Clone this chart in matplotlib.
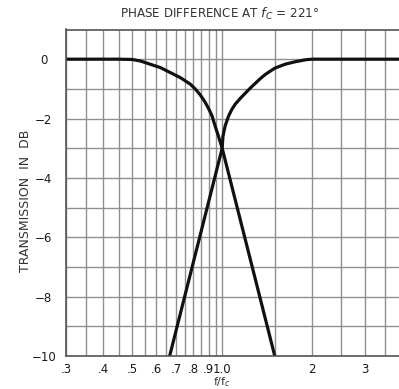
import matplotlib
matplotlib.use("Agg")
import matplotlib.pyplot as plt
from matplotlib.ticker import FixedLocator, NullFormatter

# Data
left_f = [0.3, 0.45, 0.5, 0.532, 0.574, 0.62, 0.67, 0.724, 0.782, 0.812, 0.844, 0.877,
          0.9, 0.924, 0.947, 0.972, 0.993, 1.0, 1.5]
left_db = [0.0, 0.0, -0.01, -0.06, -0.17, -0.28, -0.45, -0.62, -0.84, -1.0, -1.2, -1.45,
           -1.66, -1.9, -2.25, -2.6, -2.9, -3.0, -10.0]

right_f = [0.667, 1.0, 1.006, 1.023, 1.05, 1.075, 1.105, 1.15, 1.194, 1.24, 1.289, 1.34,
           1.392, 1.45, 1.503, 1.624, 1.75, 1.9, 2.0, 4.0]
right_db = [-10.0, -3.0, -2.6, -2.25, -1.92, -1.71, -1.52, -1.32, -1.15, -0.98, -0.82, -0.66,
            -0.52, -0.4, -0.3, -0.17, -0.09, -0.02, 0.0, 0.0]

xtick_vals = [0.3, 0.4, 0.5, 0.6, 0.7, 0.8, 0.9, 1.0, 2, 3, 4]
xtick_labels = [".3", ".4", ".5", ".6", ".7", ".8", ".9", "1.0", "2", "3", "4"]
xminor_vals = [0.35, 0.45, 0.55, 0.65, 0.75, 0.85, 0.95, 1.5, 2.5, 3.5]
ytick_vals = [0, -2, -4, -6, -8, -10]
ytick_labels = ["0", "\u22122", "\u22124", "\u22126", "\u22128", "\u221210"]
yminor_vals = [1, -1, -3, -5, -7, -9]

title = "PHASE DIFFERENCE AT $f_C$ = 221\u00b0"
xlabel = "f/f$_c$"
ylabel = "TRANSMISSION  IN  DB"

fig = plt.figure(figsize=(3.99, 3.89), dpi=100)
W, H = 399, 389
x0, x1, y0, y1 = 66, 402, 29.5, 356
ax = fig.add_axes([x0 / W, 1 - y1 / H, (x1 - x0) / W, (y1 - y0) / H])

ax.set_xscale("log")
ax.set_xlim(0.3, 4)
ax.set_ylim(-10, 1)

gridc = "#8f8f8f"
ax.xaxis.set_major_locator(FixedLocator(xtick_vals))
ax.set_xticklabels(xtick_labels)
ax.xaxis.set_minor_locator(FixedLocator(xminor_vals))
ax.xaxis.set_minor_formatter(NullFormatter())
ax.yaxis.set_major_locator(FixedLocator(ytick_vals))
ax.set_yticklabels(ytick_labels)
ax.yaxis.set_minor_locator(FixedLocator(yminor_vals))
ax.yaxis.set_minor_formatter(NullFormatter())
ax.grid(True, which="both", color=gridc, lw=1.0)
ax.set_axisbelow(True)
ax.tick_params(axis="x", which="both", length=0, labelsize=8.5, colors="#1a1a1a", pad=5)
ax.tick_params(axis="y", which="both", length=0, labelsize=8.5, colors="#1a1a1a", pad=16)
for lbl in ax.get_yticklabels():
    lbl.set_horizontalalignment("center")
for s in ax.spines.values():
    s.set_color("#555555")
    s.set_linewidth(1.2)

ax.plot(left_f, left_db, color="#111111", lw=2.3, solid_joinstyle="round", clip_on=True)
ax.plot(right_f, right_db, color="#111111", lw=2.3, solid_joinstyle="round", clip_on=True)

fig.text(220 / W, 1 - 14 / H, title, ha="center", va="center", fontsize=9.5,
         fontstretch="condensed", color="#333333")
fig.text(26 / W, 1 - 201 / H, ylabel, ha="center", va="center", rotation=90,
         fontsize=9, color="#333333")
fig.text(222 / W, 1 - 385.5 / H, xlabel, ha="center", va="baseline", fontsize=8,
         color="#333333")

fig.savefig("out.png", dpi=100)
